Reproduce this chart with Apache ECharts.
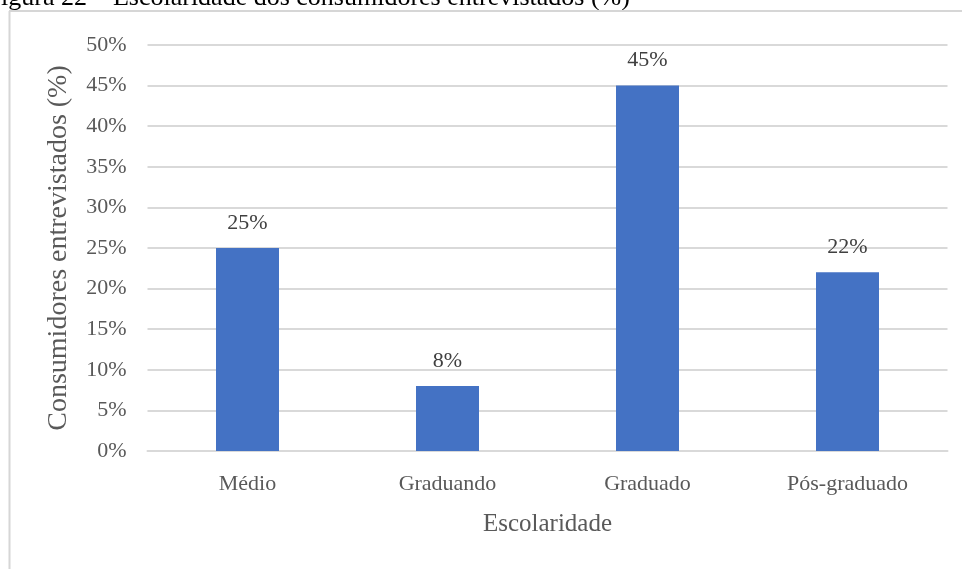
<!DOCTYPE html>
<html>
<head>
<meta charset="utf-8">
<script src="https://cdn.jsdelivr.net/npm/echarts@6/dist/echarts.min.js"></script>
<style>
html,body{margin:0;padding:0;background:#fff;}
#chart{width:962px;height:569px;}
</style>
</head>
<body>
<div id="chart"></div>
<script>
const categories = ['Médio', 'Graduando', 'Graduado', 'Pós-graduado'];
const values = [25, 8, 45, 22];
const yTicks = [0, 5, 10, 15, 20, 25, 30, 35, 40, 45, 50];
const titleText = 'igura 22 – Escolaridade dos consumidores entrevistados (%)';
const xName = 'Escolaridade';
const yName = 'Consumidores entrevistados (%)';

const serif = '"Liberation Serif", "DejaVu Serif", serif';
const chart = echarts.init(document.getElementById('chart'), null, {renderer: 'canvas'});
chart.setOption({
  animation: false,
  backgroundColor: '#fff',
  graphic: [
    {type: 'text', left: 1, top: -15, style: {text: titleText, font: '26px ' + serif, fill: '#000'}},
    {type: 'line', shape: {x1: 9, y1: 11, x2: 962, y2: 11}, style: {stroke: '#d6d6d6', lineWidth: 2}},
    {type: 'line', shape: {x1: 9.5, y1: 11, x2: 9.5, y2: 569}, style: {stroke: '#d6d6d6', lineWidth: 2}}
  ],
  grid: {left: 147.5, right: 14.5, top: 45, bottom: 118, containLabel: false},
  xAxis: {
    type: 'category',
    data: categories,
    name: xName,
    nameLocation: 'middle',
    nameGap: 61,
    nameTextStyle: {fontFamily: serif, fontSize: 25, color: '#595959'},
    axisLine: {lineStyle: {color: '#d9d9d9', width: 2}},
    axisTick: {show: false},
    axisLabel: {fontFamily: serif, fontSize: 22, color: '#595959', margin: 22}
  },
  yAxis: {
    type: 'value',
    min: 0, max: 50, interval: 5,
    name: yName,
    nameLocation: 'middle',
    nameGap: 75,
    nameTextStyle: {fontFamily: serif, fontSize: 28, color: '#595959'},
    axisLine: {show: false},
    axisTick: {show: false},
    splitLine: {lineStyle: {color: '#d9d9d9', width: 2}},
    axisLabel: {fontFamily: serif, fontSize: 22, color: '#595959', margin: 21,
      formatter: v => v + '%'}
  },
  series: [{
    type: 'bar',
    data: values,
    barWidth: 63,
    itemStyle: {color: '#4472c4'},
    label: {show: true, position: 'top', distance: 14, formatter: p => p.value + '%',
      fontFamily: serif, fontSize: 22, color: '#404040'}
  }]
});
</script>
</body>
</html>
